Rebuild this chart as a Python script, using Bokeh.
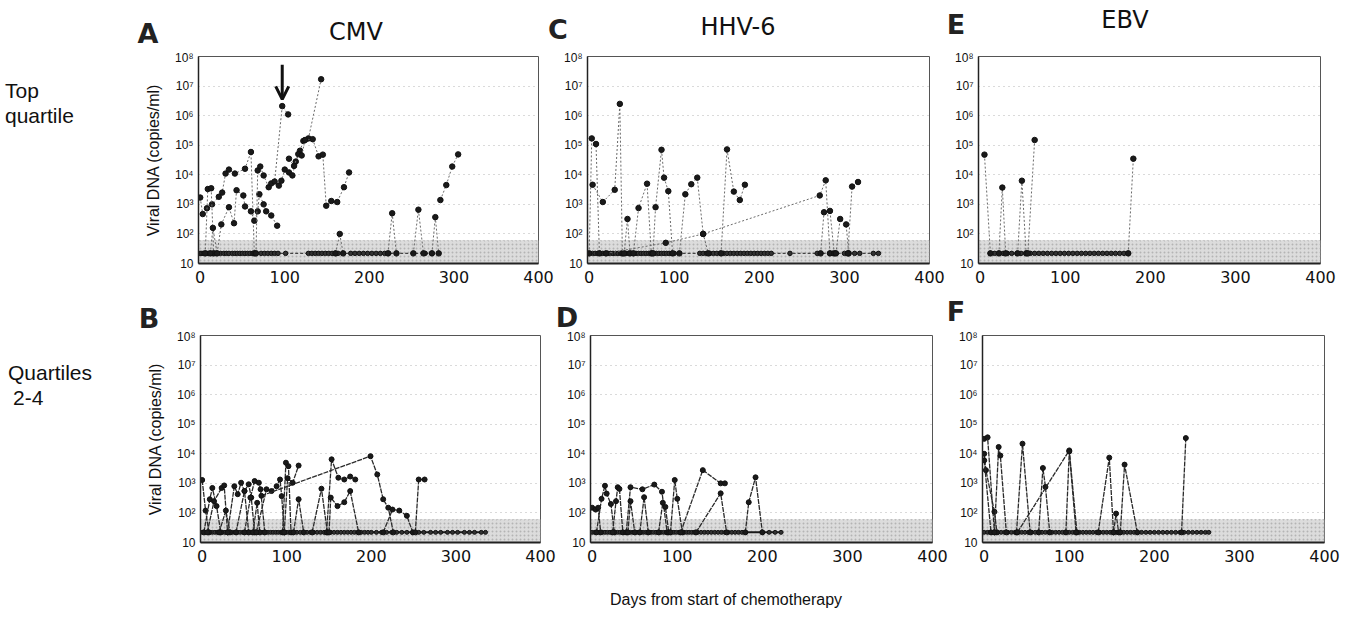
from bokeh.plotting import figure
from bokeh.layouts import row, column
from bokeh.models import Range1d, FixedTicker, BoxAnnotation, Arrow, OpenHead, Div
from bokeh.embed import file_html
from bokeh.resources import INLINE

# ---------------- data ----------------
ND = 22                 # plotted value for "not detected"
DETECTION_LIMIT = 60    # shaded band top
y_ticks = [10, 100, 1000, 10**4, 10**5, 10**6, 10**7, 10**8]
y_tick_labels = ["10", "10²", "10³", "10⁴", "10⁵", "10⁶", "10⁷", "10⁸"]
x_ticks = [0, 100, 200, 300, 400]
virus_titles = ["CMV", "HHV-6", "EBV"]
row_titles = [["Top", "quartile"], ["Quartiles", "2-4"]]
panel_letters = ["A", "C", "E", "B", "D", "F"]
x_title = "Days from start of chemotherapy"
y_title = "Viral DNA (copies/ml)"

# Panel A: CMV, top quartile
cmv_top_days = [
    [0, 3, 8, 14, 22, 26, 30, 34, 41, 53, 60, 64],
    [6, 9, 13, 16],
    [12, 15, 20, 25, 34, 40, 43, 51, 53, 60, 64, 68, 70, 75, 78, 84, 91],
    [66, 68, 71, 75, 81, 84, 88, 97, 104],
    [93, 96, 100, 105, 109, 113, 118, 122, 128, 143],
    [105, 111, 116, 120, 124, 133, 140, 145, 149, 155, 162, 170, 176],
    [160, 165, 169],
    [222, 227, 232],
    [252, 258, 264],
    [274, 278, 282],
    [284, 291, 298, 305],
]
cmv_top_vals = [
    [1700, 470, 740, 1000, 1800, 2500, 11000, 15000, 11000, 16000, 59000, ND],
    [ND, 3300, 3500, ND],
    [ND, 160, ND, 210, 800, 230, 3000, 2000, 850, 580, 280, 580, 2200, 1000, 580, 420, 190],
    [ND, 14000, 19000, 9500, 3800, 5100, 5900, 2.1e6, 1.1e6],
    [4300, 6300, 15000, 12000, 9500, 28000, 65000, 1.4e5, 1.7e5, 1.7e7],
    [35000, 20000, 50000, 45000, 1.5e5, 1.6e5, 42000, 48000, 900, 1300, 1200, 3800, 12000],
    [ND, 100, ND],
    [ND, 500, ND],
    [ND, 660, ND],
    [ND, 370, ND],
    [1400, 4500, 19000, 49000],
]
cmv_top_nd = [0, 2, 4, 6, 8, 10, 12, 14, 16, 18, 20, 24, 28, 31, 34, 38, 41, 44, 47, 50, 53,
              56, 59, 62, 72, 76, 80, 84, 88, 92, 101, 128, 132, 136, 140, 144, 148, 152, 156,
              160, 163, 178, 183, 188, 193, 198, 203, 208, 213, 218, 223, 266, 274]

# Panel C: HHV-6, top quartile
hhv6_top_days = [
    [0, 3, 8, 12],
    [4, 16, 30, 36, 39],
    [41, 45, 48],
    [52, 58, 68, 73],
    [75, 78, 85, 88, 93, 98],
    [106, 113, 120, 127, 134, 140],
    [155, 162, 170, 177, 183],
    [20, 90, 134, 271, 278, 283],
    [272, 276, 283, 288],
    [290, 295, 302, 305],
    [304, 309, 316],
]
hhv6_top_vals = [
    [ND, 1.7e5, 1.1e5, ND],
    [4600, 1200, 3100, 2.5e6, ND],
    [ND, 320, ND],
    [ND, 750, 5000, ND],
    [ND, 800, 70000, 8000, 2800, ND],
    [ND, 2200, 4800, 8000, 100, ND],
    [ND, 72000, 2700, 1400, 4600],
    [ND, 50, 100, 2000, 6500, ND],
    [ND, 540, 600, ND],
    [ND, 320, 210, ND],
    [ND, 4000, 5700],
]
hhv6_top_nd = [4, 7, 10, 13, 16, 19, 22, 25, 28, 31, 34, 37, 40, 43, 46, 49, 52, 55, 58, 61, 64,
               67, 70, 73, 76, 79, 82, 85, 88, 91, 94, 97, 100, 130, 134, 138, 142, 146, 150, 154,
               158, 162, 166, 170, 174, 178, 182, 186, 190, 194, 198, 202, 206, 210, 214, 236,
               268, 283, 286, 290, 300, 305, 312, 318, 334, 340]

# Panel E: EBV, top quartile
ebv_top_days = [[5, 12], [22, 26, 30], [44, 49, 54], [56, 64], [174, 180]]
ebv_top_vals = [[48000, ND], [ND, 3700, ND], [ND, 6300, ND], [ND, 150000], [ND, 35000]]
ebv_top_nd = [12, 17, 22, 27, 32, 37, 43, 48, 54, 59, 64, 69, 74, 79, 84, 89, 94, 99, 104, 109,
              114, 119, 124, 129, 134, 139, 144, 149, 154, 159, 164, 169, 174]

# Panel B: CMV, quartiles 2-4
cmv_low_days = [
    [0, 4, 8], [2, 9, 12, 17, 22], [6, 14, 23, 26, 30], [20, 28, 33],
    [30, 38, 42, 46, 50, 55], [40, 50, 55, 58, 62], [50, 57, 62, 67, 69, 74], [60, 65, 68],
    [64, 76, 82, 88, 92, 94, 97], [70, 199, 207, 214, 220, 226], [95, 99, 102, 105],
    [97, 101, 107, 114], [108, 114, 120], [130, 141, 148], [147, 153, 161, 168, 175, 181],
    [150, 152, 160, 168, 175, 185], [214, 225, 233, 242, 249], [252, 256, 263],
]
cmv_low_vals = [
    [1300, 120, ND], [ND, 290, 700, 170, ND], [ND, 250, 700, 850, ND], [ND, 120, ND],
    [ND, 800, 430, 1050, 550, ND], [ND, 550, 930, 330, ND], [ND, 330, 1200, 1050, 630, ND], [ND, 220, ND],
    [ND, 630, 550, 800, 1350, 370, ND], [380, 8300, 2000, 290, 150, ND], [ND, 5000, 3800, ND],
    [ND, 1500, 1050, 4000], [ND, 290, ND], [ND, 660, ND], [ND, 6500, 1550, 1350, 1700, 1350],
    [ND, 330, 170, 230, 550, ND], [ND, 130, 120, 80, ND], [ND, 1350, 1350],
]
cmv_low_nd = [0, 3, 6, 9, 12, 15, 18, 21, 24, 27, 30, 33, 36, 39, 42, 45, 48, 51, 54, 57, 60, 63,
              66, 69, 72, 75, 78, 81, 84, 87, 90, 93, 96, 99, 102, 105, 108, 112, 116, 120, 124,
              128, 132, 136, 140, 144, 148, 152, 156, 160, 164, 168, 172, 176, 180, 184, 188, 192,
              196, 200, 206, 212, 218, 224, 230, 236, 242, 249, 256, 262, 270, 276, 282, 290, 296,
              302, 310, 316, 322, 330, 335]

# Panel D: HHV-6, quartiles 2-4
hhv6_low_days = [
    [0, 4, 7, 10], [5, 11, 15, 17, 22, 26], [24, 28, 30, 32, 36], [40, 45, 59, 73, 82, 88],
    [42, 45, 50], [56, 61, 66], [78, 83, 86, 90], [92, 97, 100, 106], [104, 130, 151, 156],
    [122, 151, 158], [180, 184, 192, 200],
]
hhv6_low_vals = [
    [150, 130, 150, ND], [ND, 300, 830, 450, 200, ND], [ND, 250, 740, 650, ND],
    [ND, 740, 630, 910, 520, ND], [ND, 250, ND], [ND, 340, ND], [ND, 220, 160, ND],
    [ND, 1300, 300, ND], [ND, 2800, 1000, 1000], [ND, 460, ND], [ND, 230, 1600, ND],
]
hhv6_low_nd = [0, 3, 6, 9, 12, 15, 18, 21, 24, 27, 30, 33, 36, 39, 42, 45, 48, 51, 54, 57, 60, 63,
               66, 69, 72, 75, 78, 81, 84, 87, 90, 93, 96, 99, 102, 105, 108, 111, 114, 117, 120,
               124, 128, 132, 136, 140, 144, 148, 152, 156, 160, 164, 168, 172, 176, 180, 200,
               208, 215, 222]

# Panel F: EBV, quartiles 2-4
ebv_low_days = [
    [0, 4, 12], [0, 2, 12, 15], [0, 8], [12, 17, 19, 26], [38, 45, 54], [64, 69, 72, 77],
    [39, 100, 109], [96, 100, 108], [134, 147, 152], [152, 155, 158], [160, 165, 180], [232, 237],
]
ebv_low_vals = [
    [32000, 36000, ND], [10000, 2800, 110, ND], [6000, ND], [ND, 17000, 8700, ND],
    [ND, 22000, ND], [ND, 3300, 760, ND], [ND, 13000, ND], [ND, 12000, ND], [ND, 7400, ND],
    [ND, 95, ND], [ND, 4300, ND], [ND, 34000],
]
ebv_low_nd = [0, 4, 8, 12, 16, 20, 24, 28, 32, 36, 40, 44, 48, 52, 56, 60, 64, 68, 72, 76, 80, 84,
              88, 92, 96, 100, 104, 108, 112, 116, 120, 124, 128, 132, 136, 140, 144, 148, 152,
              156, 160, 164, 168, 172, 176, 180, 185, 190, 195, 200, 205, 210, 215, 220, 225, 230,
              235, 240, 245, 250, 255, 260, 264]

# ---------------- drawing ----------------
FRAME_H = 207
ROW_TITLE_W = 138


def make_panel(days_list, vals_list, nd_days, left, right, top, bottom, frame_w,
               ylabel=False, top_row=True):
    p = figure(frame_width=frame_w, frame_height=FRAME_H,
               x_range=Range1d(-2, 400), y_range=Range1d(10, 10**8),
               y_axis_type="log", output_backend="svg", toolbar_location=None,
               min_border_left=left, min_border_right=right,
               min_border_top=top, min_border_bottom=bottom,
               background_fill_color="white", border_fill_color="white")
    p.outline_line_color = "#555555"
    p.outline_line_width = 1
    p.xgrid.visible = False
    p.ygrid.ticker = FixedTicker(ticks=y_ticks[1:-1])
    p.ygrid.grid_line_color = "#b4b4b4"
    p.ygrid.grid_line_dash = "1 4"
    p.ygrid.grid_line_width = 1

    band = BoxAnnotation(bottom=10, top=DETECTION_LIMIT, fill_color="#dcdcdc", fill_alpha=1,
                         hatch_pattern="dot", hatch_color="#9a9a9a", hatch_alpha=0.6,
                         hatch_scale=4, line_color="#8a8a8a", line_dash="2 2",
                         line_width=1, level="underlay")
    p.add_layout(band)

    ya = p.yaxis[0]
    ya.ticker = FixedTicker(ticks=y_ticks)
    ya.major_label_overrides = {t: s for t, s in zip(y_ticks, y_tick_labels)}
    ya.major_label_text_font = "Liberation Sans"
    ya.major_label_text_font_size = "12px"
    ya.major_label_text_color = "#111111"
    ya.major_tick_line_color = None
    ya.minor_tick_line_color = None
    ya.major_tick_out = 0
    ya.major_tick_in = 0
    ya.major_label_standoff = 5
    ya.axis_line_color = "#222222"
    ya.axis_line_width = 1.5
    if ylabel:
        ya.axis_label = y_title
        ya.axis_label_text_font = "Liberation Sans"
        ya.axis_label_text_font_size = "16px"
        ya.axis_label_text_font_style = "normal"
        ya.axis_label_text_color = "#111111"
        ya.axis_label_standoff = 10

    xa = p.xaxis[0]
    xa.ticker = FixedTicker(ticks=x_ticks)
    xa.major_label_text_font = "DejaVu Sans"
    xa.major_label_text_font_size = "16px"
    xa.major_label_text_color = "#111111"
    xa.major_tick_line_color = None
    xa.minor_tick_line_color = None
    xa.major_tick_out = 0
    xa.major_tick_in = 0
    xa.major_label_standoff = 7
    xa.axis_line_color = "#222222"
    xa.axis_line_width = 2

    if top_row:
        lc, ld, lw, ms = "#6a6a6a", "2 2", 1, 5.5
        nd_c, nd_d, nd_w = "#444444", "3 2", 1.2
    else:
        lc, ld, lw, ms = "#2a2a2a", "5 1", 1.3, 5
        nd_c, nd_d, nd_w = "#1a1a1a", "solid", 2

    p.line(nd_days, [ND] * len(nd_days), line_color=nd_c, line_dash=nd_d, line_width=nd_w)
    p.scatter(nd_days, [ND] * len(nd_days), size=ms - 1, fill_color="#333333",
              line_color="#111111")
    for d, v in zip(days_list, vals_list):
        p.line(d, v, line_color=lc, line_dash=ld, line_width=lw)
        p.scatter(d, v, size=ms, fill_color="#1a1a1a", line_color="#111111")
    return p


def span(text, cx, cy, size, font="DejaVu Sans", weight="normal", color="#111",
         centered=True):
    tf = "transform:translate(-50%,-50%);" if centered else "transform:translate(0,-50%);"
    return (f'<span style="position:absolute;left:{cx}px;top:{cy}px;{tf}'
            f"font-family:'{font}';font-size:{size}px;font-weight:{weight};color:{color};"
            f'white-space:nowrap;line-height:1">{text}</span>')


def overlay_div(items, width, height):
    html = (f'<div style="position:relative;width:{width}px;height:{height}px;overflow:visible">'
            + "".join(items) + "</div>")
    return Div(text=html, width=width, height=height, margin=(0, 0, 0, 0),
               styles={"overflow": "visible"})


# title strip above the top row (y 0-50)
title_top = overlay_div([
    span(panel_letters[0], 148, 33, 27, weight="bold", color="#222"),
    span(virus_titles[0], 356, 32, 24),
    span(panel_letters[1], 558, 29, 27, weight="bold", color="#222"),
    span(virus_titles[1], 738, 27, 24),
    span(panel_letters[2], 956, 24, 27, weight="bold", color="#222"),
    span(virus_titles[2], 1125, 20, 24),
], 1350, 50)

# letter strip above the bottom row (y 300-329)
title_bottom = overlay_div([
    span(panel_letters[3], 149, 18, 27, weight="bold", color="#222"),
    span(panel_letters[4], 567, 17, 27, weight="bold", color="#222"),
    span(panel_letters[5], 956, 11, 27, weight="bold", color="#222"),
], 1350, 29)

row1_title = overlay_div([
    span(row_titles[0][0], 5, 40, 21, font="Liberation Sans", centered=False),
    span(row_titles[0][1], 5, 65, 21, font="Liberation Sans", centered=False),
], ROW_TITLE_W, 250)
row2_title = overlay_div([
    span(row_titles[1][0], 8, 43, 21, font="Liberation Sans", centered=False),
    span(row_titles[1][1], 13, 68, 21, font="Liberation Sans", centered=False),
], ROW_TITLE_W, 249)

pA = make_panel(cmv_top_days, cmv_top_vals, cmv_top_nd, 198 - ROW_TITLE_W, 17, 6, 37, 340, ylabel=True)
pC = make_panel(hhv6_top_days, hhv6_top_vals, hhv6_top_nd, 32, 17, 6, 37, 342)
pE = make_panel(ebv_top_days, ebv_top_vals, ebv_top_nd, 32, 20, 6, 37, 342)
pB = make_panel(cmv_low_days, cmv_low_vals, cmv_low_nd, 200 - ROW_TITLE_W, 17, 6, 36, 340,
                ylabel=True, top_row=False)
pD = make_panel(hhv6_low_days, hhv6_low_vals, hhv6_low_nd, 33, 17, 6, 36, 342, top_row=False)
pF = make_panel(ebv_low_days, ebv_low_vals, ebv_low_nd, 33, 17, 6, 36, 342, top_row=False)

# arrow marking the 2e6 CMV peak in panel A
arrow_series = cmv_top_vals[3]
peak_i = max(range(len(arrow_series)), key=lambda i: arrow_series[i])
peak_day = cmv_top_days[3][peak_i]
peak_val = arrow_series[peak_i]
pA.add_layout(Arrow(end=OpenHead(size=13, line_width=3, line_color="#111111"),
                    x_start=peak_day, y_start=peak_val * 25, x_end=peak_day, y_end=peak_val * 1.7,
                    line_width=3, line_color="#111111"))

xlabel = Div(text=f'<div style="margin-left:610px;margin-top:12px;font-family:\'Liberation Sans\';'
                  f'font-size:16px;line-height:1.2;color:#111;white-space:nowrap">{x_title}</div>',
             width=1340, height=38, margin=(0, 0, 0, 0))

layout = column(title_top,
                row(row1_title, pA, pC, pE, spacing=0),
                title_bottom,
                row(row2_title, pB, pD, pF, spacing=0),
                xlabel, spacing=0)

open("out.html", "w").write(file_html(layout, INLINE))
